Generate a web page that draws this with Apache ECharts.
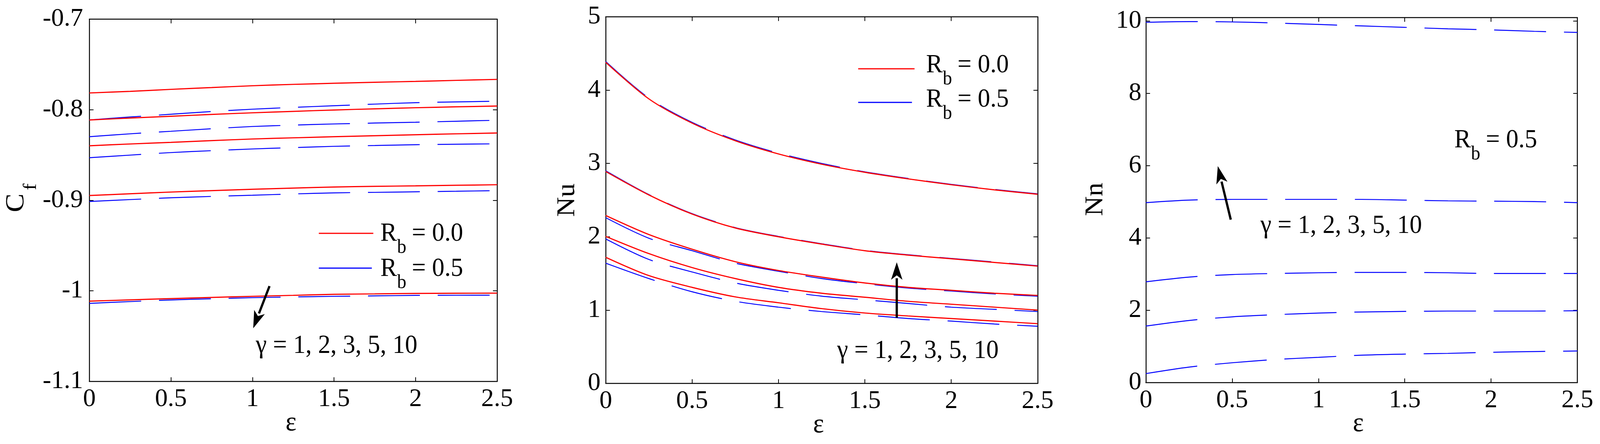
<!DOCTYPE html>
<html><head><meta charset="utf-8">
<script src="https://cdn.jsdelivr.net/npm/echarts@6/dist/echarts.min.js"></script>
<style>html,body{margin:0;padding:0;background:#fff;overflow:hidden}#c{width:100vw;height:100vh}</style>
</head><body><div id="c"></div>
<script>
// ---------------- data ----------------
const eps = [0, 0.25, 0.5, 0.75, 1, 1.25, 1.5, 1.75, 2, 2.25, 2.5];
const xTicks = [0, 0.5, 1, 1.5, 2, 2.5];
const gammaText = 'γ = 1, 2, 3, 5, 10';

// Skin friction Cf, Rb = 0.0 (red, solid), gamma = 1,2,3,5,10
const cfRb0_g1 = [-0.7815, -0.7797, -0.7775, -0.7755, -0.7735, -0.7720, -0.7708, -0.7697, -0.7687, -0.7676, -0.7665];
const cfRb0_g2 = [-0.8113, -0.8092, -0.8072, -0.8052, -0.8034, -0.8018, -0.8003, -0.7990, -0.7978, -0.7968, -0.7959];
const cfRb0_g3 = [-0.8398, -0.8378, -0.8360, -0.8341, -0.8323, -0.8310, -0.8298, -0.8287, -0.8276, -0.8266, -0.8257];
const cfRb0_g5 = [-0.8947, -0.8928, -0.8909, -0.8893, -0.8878, -0.8865, -0.8853, -0.8846, -0.8840, -0.8834, -0.8828];
const cfRb0_g10 = [-1.0113, -1.0099, -1.0085, -1.0072, -1.0060, -1.0049, -1.0038, -1.0033, -1.0028, -1.0026, -1.0025];
// Cf, Rb = 0.5 (blue, dashed)
const cfRb5_g1 = [-0.8113, -0.8080, -0.8050, -0.8020, -0.7994, -0.7974, -0.7956, -0.7938, -0.7922, -0.7914, -0.7906];
const cfRb5_g2 = [-0.8298, -0.8266, -0.8238, -0.8210, -0.8185, -0.8170, -0.8157, -0.8147, -0.8138, -0.8127, -0.8116];
const cfRb5_g3 = [-0.8530, -0.8501, -0.8473, -0.8452, -0.8433, -0.8418, -0.8404, -0.8395, -0.8386, -0.8381, -0.8376];
const cfRb5_g5 = [-0.9013, -0.8992, -0.8972, -0.8957, -0.8944, -0.8930, -0.8918, -0.8912, -0.8906, -0.8900, -0.8893];
const cfRb5_g10 = [-1.0138, -1.0118, -1.0100, -1.0087, -1.0075, -1.0067, -1.0060, -1.0055, -1.0050, -1.0048, -1.0047];

// Nusselt number Nu, Rb = 0.0 (red)
const nuRb0_g1 = [4.38, 3.88, 3.55, 3.31, 3.13, 2.99, 2.88, 2.79, 2.71, 2.64, 2.58];
const nuRb0_g2 = [2.89, 2.57, 2.31, 2.12, 2.00, 1.90, 1.81, 1.75, 1.70, 1.65, 1.60];
const nuRb0_g3 = [2.29, 2.03, 1.83, 1.66, 1.54, 1.45, 1.37, 1.31, 1.27, 1.23, 1.20];
const nuRb0_g5 = [2.005, 1.77, 1.58, 1.43, 1.31, 1.23, 1.175, 1.12, 1.08, 1.04, 1.00];
const nuRb0_g10 = [1.72, 1.47, 1.31, 1.18, 1.10, 1.02, 0.96, 0.92, 0.885, 0.85, 0.815];
// Nu, Rb = 0.5 (blue)
const nuRb5_g1 = [4.39, 3.89, 3.56, 3.32, 3.14, 3.00, 2.885, 2.795, 2.715, 2.645, 2.585];
const nuRb5_g2 = [2.90, 2.575, 2.315, 2.125, 2.005, 1.905, 1.815, 1.755, 1.705, 1.655, 1.605];
const nuRb5_g3 = [2.26, 1.98, 1.81, 1.64, 1.53, 1.43, 1.36, 1.30, 1.26, 1.22, 1.19];
const nuRb5_g5 = [1.97, 1.69, 1.52, 1.37, 1.27, 1.19, 1.14, 1.09, 1.04, 1.01, 0.98];
const nuRb5_g10 = [1.64, 1.43, 1.25, 1.12, 1.04, 0.98, 0.935, 0.885, 0.85, 0.81, 0.78];

// Nn, Rb = 0.5 (blue)
const nnRb5_g1 = [0.25, 0.43, 0.55, 0.64, 0.70, 0.76, 0.79, 0.81, 0.84, 0.86, 0.875];
const nnRb5_g2 = [1.565, 1.72, 1.82, 1.88, 1.925, 1.955, 1.97, 1.98, 1.98, 1.98, 1.99];
const nnRb5_g3 = [2.79, 2.92, 2.99, 3.02, 3.04, 3.05, 3.05, 3.04, 3.02, 3.02, 3.02];
const nnRb5_g5 = [4.98, 5.05, 5.07, 5.07, 5.07, 5.07, 5.05, 5.03, 5.02, 5.01, 4.98];
const nnRb5_g10 = [9.97, 9.99, 9.98, 9.95, 9.91, 9.87, 9.83, 9.79, 9.76, 9.72, 9.69];

// ---------------- layout / style ----------------
const el = document.getElementById('c');
const W = el.clientWidth || 4316, H = el.clientHeight || 1136;
const SX = W / 4316, SY = H / 1136;
const X = v => v * SX, Y = v => v * SY, F = v => v * SY, LW = v => v * Math.sqrt(SX * SY);
const KX = SX / SY;   // horizontal squeeze so that text keeps its proportions

const FONT = '"Liberation Serif", "Times New Roman", Times, serif';
const FS_AXIS = 67 * Math.sqrt(SX * SY);
const RED = '#ff0000', BLUE = '#0000ff';
const grids = [
  {left: X(241), top: Y(49), width: X(1100), height: Y(927)},
  {left: X(1634), top: Y(43), width: X(1165), height: Y(938)},
  {left: X(3091), top: Y(45), width: X(1164), height: Y(934)}
];
const yCfg = [
  {min: -1.1, max: -0.7, interval: 0.1, margin: 17, showMax: true},
  {min: 0, max: 5, interval: 1, margin: 14, showMax: true},
  {min: 0, max: 10.1, interval: 2, margin: 12, showMax: false}
];

const xAxes = [], yAxes = [];
grids.forEach((g, i) => {
  const common = {
    type: 'value', gridIndex: i, min: 0, max: 2.5, interval: 0.5,
    axisLine: {show: true, onZero: false, lineStyle: {color: '#000', width: LW(2.5)}},
    axisTick: {show: true, inside: true, length: LW(11), lineStyle: {color: '#000', width: LW(2)}},
    splitLine: {show: false}
  };
  xAxes.push(Object.assign({}, common, {
    position: 'bottom',
    axisLabel: {show: true, margin: Y(46), verticalAlign: 'middle', color: '#000',
      fontFamily: FONT, fontSize: FS_AXIS, showMinLabel: true, showMaxLabel: true}
  }));
  xAxes.push(Object.assign({}, common, {position: 'top', axisLabel: {show: false}}));
  const yc = yCfg[i];
  const ycommon = {
    type: 'value', gridIndex: i, min: yc.min, max: yc.max, interval: yc.interval,
    axisLine: {show: true, onZero: false, lineStyle: {color: '#000', width: LW(2.5)}},
    axisTick: {show: true, inside: true, length: LW(11), lineStyle: {color: '#000', width: LW(2)}},
    splitLine: {show: false}
  };
  yAxes.push(Object.assign({}, ycommon, {
    position: 'left',
    axisLabel: {show: true, margin: X(yc.margin), color: '#000', fontFamily: FONT, fontSize: FS_AXIS,
      showMinLabel: true, showMaxLabel: yc.showMax}
  }));
  yAxes.push(Object.assign({}, ycommon, {position: 'right', axisLabel: {show: false}}));
});

function pts(arr) { return arr.map((v, k) => [eps[k], v]); }
function line(arr, gi, color, dashed) {
  return {
    type: 'line', xAxisIndex: 2 * gi, yAxisIndex: 2 * gi, data: pts(arr),
    symbol: 'none', smooth: 0.3, silent: true, z: dashed ? 2 : 3,
    lineStyle: {color: color, width: LW(dashed ? 2.5 : 3), type: dashed ? [X(140), X(48)] : 'solid'}
  };
}
const series = [];
[cfRb5_g1, cfRb5_g2, cfRb5_g3, cfRb5_g5, cfRb5_g10].forEach(a => series.push(line(a, 0, BLUE, true)));
[cfRb0_g1, cfRb0_g2, cfRb0_g3, cfRb0_g5, cfRb0_g10].forEach(a => series.push(line(a, 0, RED, false)));
[nuRb5_g1, nuRb5_g2, nuRb5_g3, nuRb5_g5, nuRb5_g10].forEach(a => series.push(line(a, 1, BLUE, true)));
[nuRb0_g1, nuRb0_g2, nuRb0_g3, nuRb0_g5, nuRb0_g10].forEach(a => series.push(line(a, 1, RED, false)));
[nnRb5_g1, nnRb5_g2, nnRb5_g3, nnRb5_g5, nnRb5_g10].forEach(a => series.push(line(a, 2, BLUE, true)));

// ---------------- annotations ----------------
function txt(x, y, s, size, opts) {
  opts = opts || {};
  const o = {
    type: 'text', x: X(x), y: Y(y), rotation: opts.rot || 0, silent: true, z: 10,
    style: {text: s, fontFamily: FONT, fontSize: F(size), fill: '#000',
      align: opts.align || 'left', verticalAlign: 'middle'}
  };
  if (opts.rot) { o.scaleY = KX; } else { o.scaleX = KX; }
  return o;
}
function rbLabel(x, y, val) {
  return [txt(x, y, 'R', 67), txt(x + 45, y + 36, 'b', 50), txt(x + 85, y, '= ' + val, 67)];
}
function legendLine(x1, x2, y, color) {
  return {type: 'line', silent: true, z: 10, shape: {x1: X(x1), y1: Y(y), x2: X(x2), y2: Y(y)},
    style: {stroke: color, lineWidth: LW(3)}};
}
function arrow(x1, y1, x2, y2) {
  x1 = X(x1); y1 = Y(y1); x2 = X(x2); y2 = Y(y2);
  const L = Math.hypot(x2 - x1, y2 - y1), ux = (x2 - x1) / L, uy = (y2 - y1) / L;
  const hl = LW(46), hw = LW(15);
  const bx = x2 - ux * hl, by = y2 - uy * hl;
  const px = -uy, py = ux;
  return [
    {type: 'line', silent: true, z: 10, shape: {x1: x1, y1: y1, x2: bx + ux * 4, y2: by + uy * 4},
      style: {stroke: '#000', lineWidth: LW(6)}},
    {type: 'polygon', silent: true, z: 10,
      shape: {points: [[x2, y2], [bx + px * hw, by + py * hw], [x2 - ux * hl * 0.75, y2 - uy * hl * 0.75], [bx - px * hw, by - py * hw]]},
      style: {fill: '#000'}}
  ];
}
const R90 = Math.PI / 2;
const graphics = [].concat(
  txt(785, 1083, 'ε', 70, {align: 'center'}),
  txt(2208, 1088, 'ε', 70, {align: 'center'}),
  txt(3664, 1085, 'ε', 70, {align: 'center'}),
  txt(44, 519, 'C', 72, {align: 'center', rot: R90}),
  txt(83, 478, 'f', 52, {align: 'center', rot: R90}),
  txt(1531, 512, 'Nu', 70, {align: 'center', rot: R90}),
  txt(2955, 510, 'Nn', 70, {align: 'center', rot: R90}),
  legendLine(860, 1007, 597, RED), legendLine(860, 1003, 686, BLUE),
  rbLabel(1026, 598, '0.0'), rbLabel(1026, 688, '0.5'),
  legendLine(2315, 2467, 176, RED), legendLine(2315, 2460, 262, BLUE),
  rbLabel(2498, 167, '0.0'), rbLabel(2498, 255, '0.5'),
  rbLabel(3923, 359, '0.5'),
  txt(690, 885, gammaText, 67), arrow(727, 732, 683, 840),
  txt(2258, 898, gammaText, 67), arrow(2419, 813, 2419, 671),
  txt(3400, 578, gammaText, 67), arrow(3320, 562, 3285, 425)
);

const chart = echarts.init(el, null, {renderer: 'canvas'});
chart.setOption({
  animation: false,
  backgroundColor: '#fff',
  grid: grids.map(g => Object.assign({containLabel: false, outerBoundsMode: 'none'}, g)),
  xAxis: xAxes,
  yAxis: yAxes,
  series: series,
  graphic: {elements: graphics}
});
</script></body></html>
